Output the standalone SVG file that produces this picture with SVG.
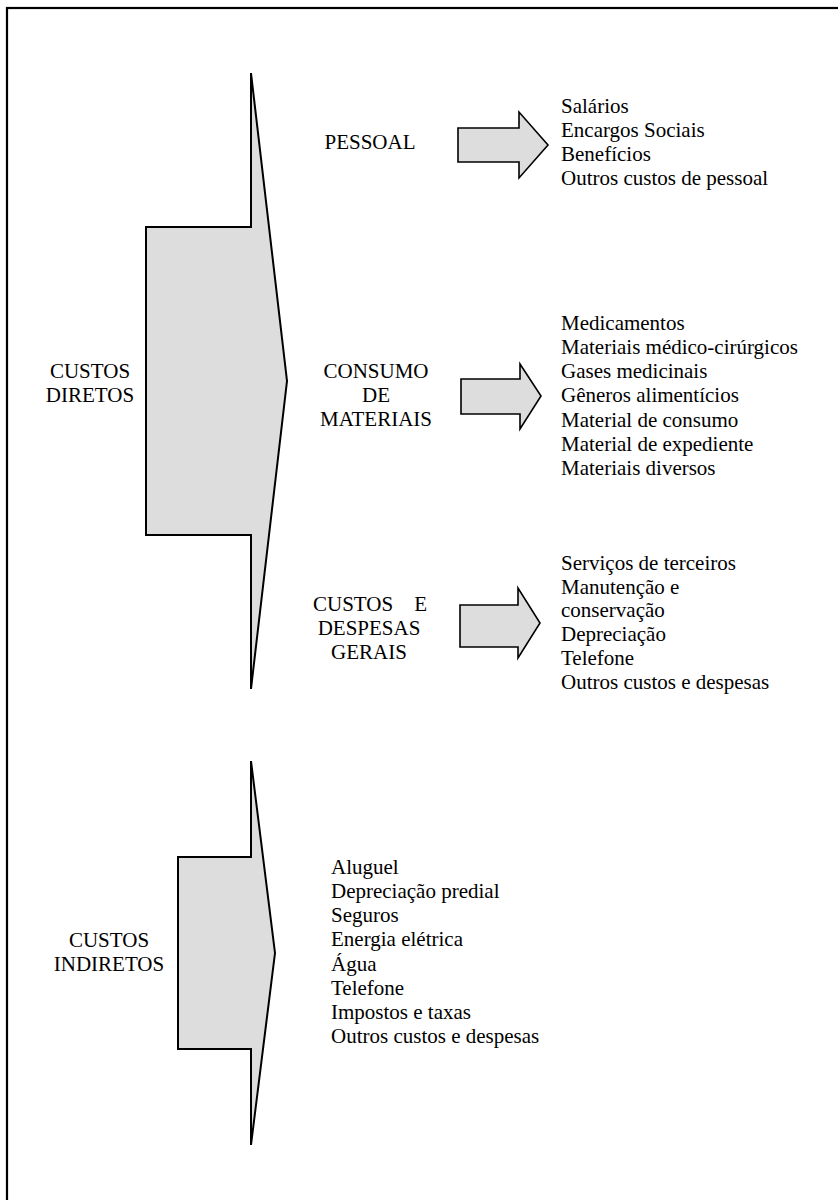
<svg xmlns="http://www.w3.org/2000/svg" width="838" height="1200" viewBox="0 0 838 1200">
<style>
text{font-family:"Liberation Serif","Times New Roman",serif;font-size:21px;fill:#000}
.c{text-anchor:middle}
.shape{fill:#dddddd;stroke:#000;stroke-width:2;stroke-linejoin:miter}
.arr{fill:#dddddd;stroke:#000;stroke-width:1.6;stroke-linejoin:miter}
</style>
<rect x="7" y="8" width="900" height="1300" fill="none" stroke="#000" stroke-width="2.2"/>
<g id="custos-diretos">
<polygon class="shape" points="146,227 251,227 251,73 287,381 251,689 251,535 146,535"/>
<text class="c" x="90" y="378">CUSTOS</text>
<text class="c" x="90" y="402">DIRETOS</text>
</g>
<g id="pessoal">
<text class="c" x="370" y="149">PESSOAL</text>
</g>
<g id="pessoal-itens">
<text x="561" y="113">Salários</text>
<text x="561" y="137">Encargos Sociais</text>
<text x="561" y="161">Benefícios</text>
<text x="561" y="185">Outros custos de pessoal</text>
</g>
<g id="consumo">
<text class="c" x="376" y="378">CONSUMO</text>
<text class="c" x="376" y="402">DE</text>
<text class="c" x="376" y="426">MATERIAIS</text>
</g>
<g id="consumo-itens">
<text x="561" y="330">Medicamentos</text>
<text x="561" y="354">Materiais médico-cirúrgicos</text>
<text x="561" y="378">Gases medicinais</text>
<text x="561" y="402">Gêneros alimentícios</text>
<text x="561" y="427">Material de consumo</text>
<text x="561" y="451">Material de expediente</text>
<text x="561" y="475">Materiais diversos</text>
</g>
<g id="despesas">
<text x="313" y="611">CUSTOS</text>
<text x="427" y="611" text-anchor="end">E</text>
<text class="c" x="369" y="635">DESPESAS</text>
<text class="c" x="369" y="659">GERAIS</text>
</g>
<g id="despesas-itens">
<text x="561" y="570">Serviços de terceiros</text>
<text x="561" y="594">Manutenção e</text>
<text x="561" y="617">conservação</text>
<text x="561" y="641">Depreciação</text>
<text x="561" y="665">Telefone</text>
<text x="561" y="689">Outros custos e despesas</text>
</g>
<g id="custos-indiretos">
<polygon class="shape" points="178,857 251,857 251,761 275,953 251,1145 251,1049 178,1049"/>
<text class="c" x="109" y="947">CUSTOS</text>
<text class="c" x="109" y="971">INDIRETOS</text>
</g>
<g id="indiretos-itens">
<text x="331" y="874">Aluguel</text>
<text x="331" y="898">Depreciação predial</text>
<text x="331" y="922">Seguros</text>
<text x="331" y="946">Energia elétrica</text>
<text x="331" y="971">Água</text>
<text x="331" y="995">Telefone</text>
<text x="331" y="1019">Impostos e taxas</text>
<text x="331" y="1043">Outros custos e despesas</text>
</g>
<g id="connectors">
<polygon class="arr" points="458,128 519,128 519,112 548,145 519,178 519,162 458,162"/>
<polygon class="arr" points="461,379 520,379 520,364 541,396 520,429 520,414 461,414"/>
<polygon class="arr" points="460,605 518,605 518,588 540,623 518,658 518,647 460,647"/>
</g>
</svg>
